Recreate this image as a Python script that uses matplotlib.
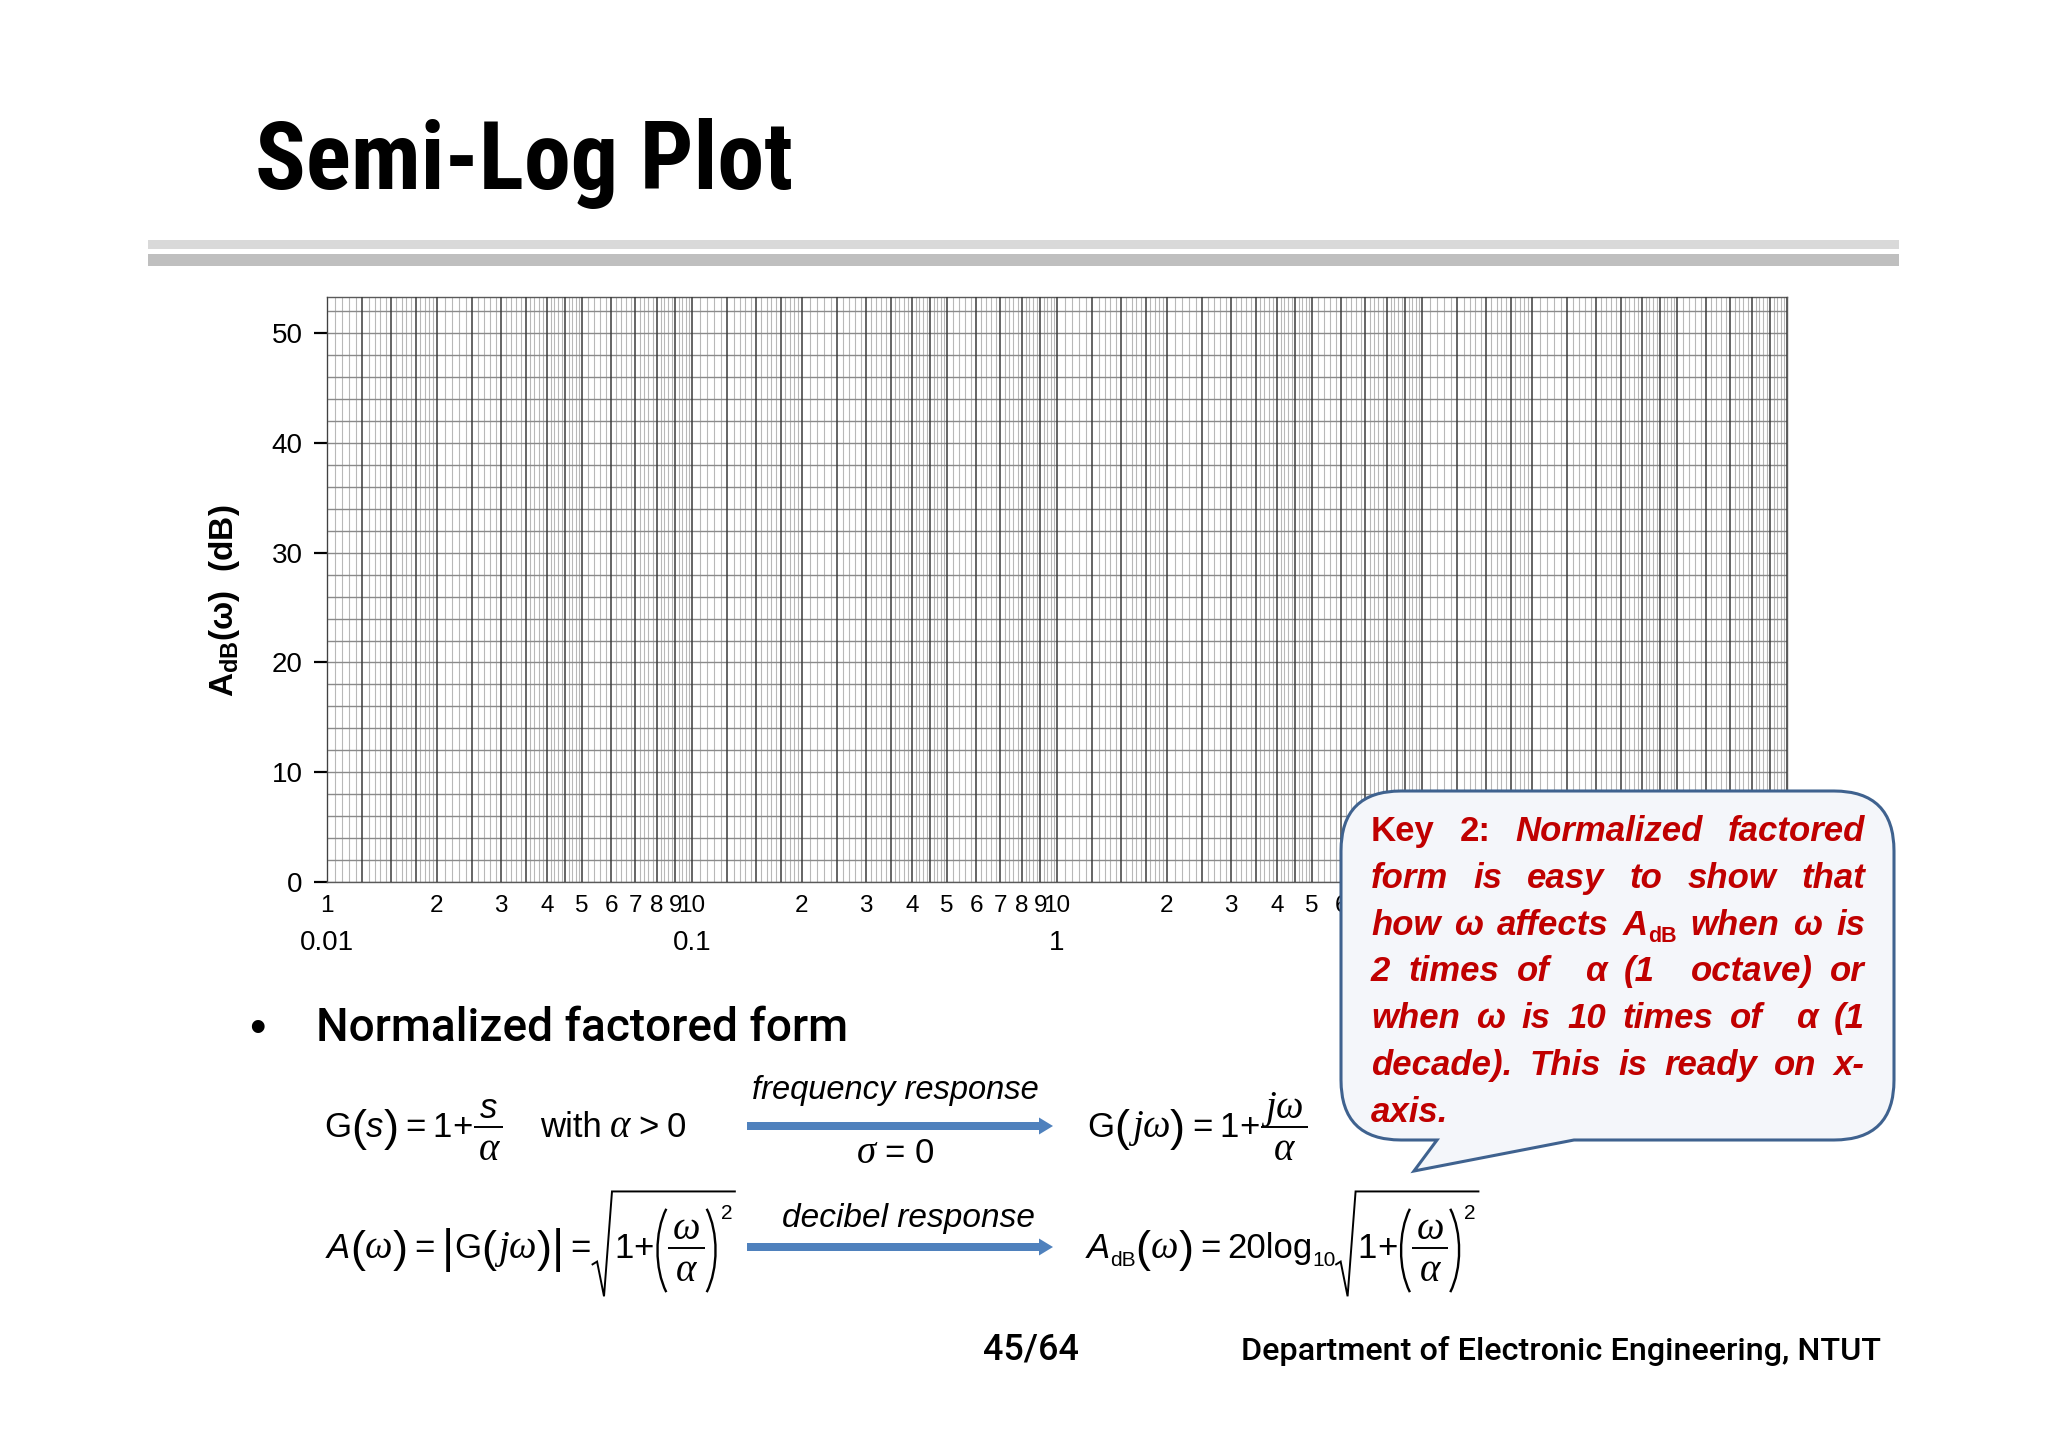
import numpy as np
import matplotlib
matplotlib.use('Agg')
import matplotlib.pyplot as plt
from matplotlib.path import Path
from matplotlib.patches import PathPatch, FancyArrow, Rectangle
from matplotlib.ticker import NullFormatter
from matplotlib.transforms import blended_transform_factory

plt.rcParams['font.family'] = ['Liberation Sans', 'DejaVu Sans']
plt.rcParams['mathtext.fontset'] = 'custom'
plt.rcParams['mathtext.rm'] = 'Liberation Sans'
plt.rcParams['mathtext.it'] = 'Liberation Sans:italic'
plt.rcParams['mathtext.bf'] = 'Liberation Sans:bold'

# ---------------- data ----------------
decades = [0.01, 0.1, 1, 10]
decade_labels = ['0.01', '0.1', '1', '10']
x_min, x_max = 0.01, 100
y_min, y_max = 0, 53.3
y_ticks = [0, 10, 20, 30, 40, 50]
y_grid_step = 2
dark_mult = [1, 1.25, 1.5, 1.75, 2, 2.5, 3, 3.5, 4, 4.5, 5, 6, 7, 8, 9]
light_ranges = [(1, 2, 0.05), (2, 5, 0.1), (5, 10, 0.2)]
digit_mult = [1, 2, 3, 4, 5, 6, 7, 8, 9]
# labels further right than this lie under the callout in the reference
label_visible_max = 6.5

title_text = 'Semi-Log Plot'
y_label = r'$\mathbf{A}_{\mathbf{dB}}$(ω)  (dB)'
bullet_text = 'Normalized factored form'
callout_lines = [
    "Key 2: Normalized factored",
    "form is easy to show that",
    "how ω affects A_dB when ω is",
    "2 times of  α (1  octave) or",
    "when ω is 10 times of  α (1",
    "decade). This is ready on x-",
    "axis.",
]
upright_words = {(0, 'Key'), (0, '2:')}
footer_page = '45/64'
footer_dept = 'Department of Electronic Engineering, NTUT'

W, H = 2048, 1447
fig = plt.figure(figsize=(W / 100, H / 100), dpi=100)
fig.patch.set_facecolor('white')

# ---------------- semi-log grid ----------------
ax = fig.add_axes([327 / W, 1 - 882 / H, (1787 - 327) / W, (882 - 297) / H])
ax.set_xscale('log')
ax.set_xlim(x_min, x_max)
ax.set_ylim(y_min, y_max)

light_mult = []
for a, b, s in light_ranges:
    n = int(round((b - a) / s))
    for k in range(1, n):
        m = round(a + k * s, 4)
        if m not in dark_mult:
            light_mult.append(m)
light_x = [d * m for d in decades for m in light_mult]
dark_x = [d * m for d in decades for m in dark_mult] + [x_max]
y_grid = np.arange(y_min, y_max, y_grid_step)

ax.vlines(light_x, y_min, y_max, colors='#b8b8b8', lw=0.8, zorder=1)
ax.hlines(y_grid, x_min, x_max, colors='#8a8a8a', lw=1.0, zorder=2)
ax.vlines(dark_x, y_min, y_max, colors='#3a3a3a', lw=1.1, zorder=3)

for sp in ax.spines.values():
    sp.set_color('#5a5a5a')
    sp.set_linewidth(1.0)

ax.set_yticks(y_ticks)
ax.set_yticklabels([str(v) for v in y_ticks])
ax.tick_params(axis='y', direction='out', length=9.5, width=1.6, labelsize=20,
               pad=8, colors='black')

xt, xl = [], []
for i, d in enumerate(decades):
    for m in digit_mult:
        if d * m > label_visible_max:
            continue
        xt.append(d * m)
        if m == 1:
            xl.append('1' if i == 0 else '10')
        else:
            xl.append(str(m))
ax.set_xticks(xt)
ax.set_xticklabels(xl)
ax.tick_params(axis='x', which='major', length=0, labelsize=17.5, pad=9)
ax.set_xticks(decades + [x_max], minor=True)
ax.xaxis.set_minor_formatter(NullFormatter())
ax.tick_params(axis='x', which='minor', direction='inout', length=14, width=1.5,
               colors='black')

bt = blended_transform_factory(ax.transData, ax.transAxes)
for d, lab in zip(decades, decade_labels):
    if d > label_visible_max:
        continue
    ax.text(d, -0.105, lab, transform=bt, ha='center', va='center', fontsize=20)

fig.text(225 / W, 1 - 601 / H, y_label, rotation=90, fontweight='bold',
         fontsize=24, ha='center', va='center')

# ---------------- overlay (pixel coordinates) ----------------
ov = fig.add_axes([0, 0, 1, 1], zorder=5)
ov.set_xlim(0, W)
ov.set_ylim(H, 0)
ov.axis('off')
ov.patch.set_alpha(0)
renderer = fig.canvas.get_renderer()

SANS = 'Liberation Sans'
SERIF = 'Liberation Serif'


def fit_text(x, y, s, target_w, base=20, **kw):
    t = ov.text(x, y, s, fontsize=base, **kw)
    w = t.get_window_extent(renderer).width
    t.set_fontsize(base * target_w / w)
    return t


def put(x, y, s, fs, family=SANS, style='normal', weight='normal', color='black', **kw):
    t = ov.text(x, y, s, fontsize=fs, family=family, style=style, fontweight=weight,
                color=color, ha='left', va='baseline', **kw)
    return t, t.get_window_extent(renderer).width


narrow = ['Roboto Condensed', 'Liberation Sans Narrow', 'Roboto', 'Liberation Sans']

# title
fit_text(255, 189, title_text, 538, base=50, family=narrow, fontweight='black',
         va='baseline', ha='left')

# separator bars
ov.add_patch(Rectangle((148, 240), 1899 - 148, 9, facecolor='#d9d9d9', edgecolor='none'))
ov.add_patch(Rectangle((148, 254), 1899 - 148, 12, facecolor='#bfbfbf', edgecolor='none'))

# bullet
ov.text(257, 1030, '•', fontsize=34, ha='center', va='center')
fit_text(316, 1028, bullet_text, 532, base=30, family=['Roboto', 'Liberation Sans'],
         fontweight='medium', ha='left', va='center')


# ---------------- equations (composed piece by piece) ----------------
class Eq:
    def __init__(self, x, yc, fs):
        self.x, self.yc, self.fs = x, yc, fs
        self.e = fs * 100 / 72
        self.base = yc + 0.32 * self.e

    def t(self, s, fam=SANS, st='normal', scale=1.0, dy=0.0, after=0.0):
        _, w = put(self.x, self.base + dy * self.e, s, self.fs * scale, fam, st)
        self.x += w + after * self.e

    def g(self, s, after=0.0):
        self.t(s, SERIF, 'italic', 1.12, after=after)

    def sp(self, k):
        self.x += k * self.e

    def paren(self, s, after=0.0):
        self.t(s, SANS, 'normal', 1.3, dy=0.1, after=after)

    def frac(self, num, den):
        def group(items, y):
            ts, xx = [], 0
            for s, fam, st, sc in items:
                t, w = put(self.x + xx, y, s, self.fs * sc, fam, st)
                ts.append((t, xx))
                xx += w
            return ts, xx
        nts, wn = group(num, self.yc - 0.22 * self.e)
        dts, wd = group(den, self.yc + 0.98 * self.e)
        w = max(wn, wd) + 0.25 * self.e
        for ts, ww in ((nts, wn), (dts, wd)):
            off = (w - ww) / 2
            for t, xo in ts:
                t.set_x(self.x + off + xo)
        ov.plot([self.x, self.x + w], [self.yc + 0.02 * self.e] * 2, color='black',
                lw=1.4, solid_capstyle='butt')
        self.x += w

    def bigparen(self, side):
        e, yc, x = self.e, self.yc, self.x
        top, bot, w = yc - 1.1 * e, yc + 1.3 * e, 0.36 * e
        h = bot - top
        if side == '(':
            xs = [x + w, x + 0.02 * e, x + 0.02 * e, x + w]
            self.x += w + 0.06 * e
        else:
            xs = [x + 0.06 * e, x + w + 0.04 * e, x + w + 0.04 * e, x + 0.06 * e]
            self.x += w + 0.1 * e
        ys = [top, top + 0.28 * h, bot - 0.28 * h, bot]
        ov.add_patch(PathPatch(Path(list(zip(xs, ys)),
                                    [Path.MOVETO, Path.CURVE4, Path.CURVE4, Path.CURVE4]),
                               facecolor='none', edgecolor='black', lw=1.7))

    def sup(self, s):
        _, w = put(self.x, self.yc - 0.8 * self.e, s, self.fs * 0.6)
        self.x += w

    def sqrt_open(self):
        self._sq = self.x
        self.x += 0.62 * self.e

    def sqrt_close(self):
        x0, e, yc = self._sq, self.e, self.yc
        x1 = self.x + 0.08 * e
        ov.plot([x0, x0 + 0.13 * e, x0 + 0.33 * e, x0 + 0.56 * e, x1],
                [yc + 0.5 * e, yc + 0.42 * e, yc + 1.42 * e, yc - 1.6 * e, yc - 1.6 * e],
                color='black', lw=1.4, solid_joinstyle='miter')
        self.x = x1


EFS = 25
S_IT = ('s', SANS, 'italic', 1.0)
ALPHA = ('α', SERIF, 'italic', 1.12)
OMEGA = ('ω', SERIF, 'italic', 1.12)
J_IT = ('j', SERIF, 'italic', 1.12)

# row 1 left: G(s) = 1 + s/alpha   with alpha > 0
e = Eq(324, 1126, EFS)
e.t('G'); e.paren('('); e.t('s', SANS, 'italic'); e.paren(')', after=0.2)
e.t('=', after=0.2); e.t('1'); e.t('+', after=0.05)
e.frac([S_IT], [ALPHA]); e.sp(1.05)
e.t('with', after=0.25); e.g('α', after=0.22); e.t('>', after=0.22); e.t('0')

# row 1 right: G(j omega) = 1 + j omega / alpha
e = Eq(1087, 1126, EFS)
e.t('G'); e.paren('('); e.sp(0.08); e.g('j'); e.g('ω'); e.paren(')', after=0.2)
e.t('=', after=0.2); e.t('1'); e.t('+', after=0.05)
e.frac([J_IT, OMEGA], [ALPHA])

# row 2 left: A(omega) = |G(j omega)| = sqrt(1 + (omega/alpha)^2)
e = Eq(327, 1247, EFS)
e.t('A', SANS, 'italic'); e.paren('('); e.g('ω'); e.paren(')', after=0.2)
e.t('=', after=0.2); e.t('|', scale=1.35, dy=0.12); e.t('G'); e.paren('(')
e.sp(0.05); e.g('j'); e.g('ω'); e.paren(')'); e.t('|', scale=1.35, dy=0.12, after=0.2)
e.t('=', after=0.05)
e.sqrt_open(); e.t('1'); e.t('+')
e.bigparen('('); e.frac([OMEGA], [ALPHA]); e.bigparen(')'); e.sup('2')
e.sqrt_close()

# row 2 right: A_dB(omega) = 20 log10 sqrt(1 + (omega/alpha)^2)
e = Eq(1087, 1247, EFS)
e.t('A', SANS, 'italic'); e.t('dB', SANS, 'normal', 0.6, dy=0.22)
e.paren('('); e.g('ω'); e.paren(')', after=0.2)
e.t('=', after=0.2); e.t('20log'); e.t('10', SANS, 'normal', 0.6, dy=0.22)
e.sqrt_open(); e.t('1'); e.t('+')
e.bigparen('('); e.frac([OMEGA], [ALPHA]); e.bigparen(')'); e.sup('2')
e.sqrt_close()

arrow_col = '#4f81bd'
for yy in (1126, 1247):
    ov.add_patch(FancyArrow(747, yy, 1053 - 747 - 14, 0, width=8, head_width=17,
                            head_length=14, length_includes_head=False,
                            color=arrow_col, lw=0))
ov.text(895, 1090, 'frequency response', fontsize=23.5, style='italic',
        ha='center', va='center')
sig_base = 1152 + 0.32 * EFS * 100 / 72
ov.text(876, sig_base, 'σ', fontsize=EFS * 1.12, family=SERIF, style='italic',
        ha='right', va='baseline')
put(885, sig_base, '= 0', EFS)
ov.text(908, 1218, 'decibel response', fontsize=24, style='italic',
        ha='center', va='center')

# ---------------- callout bubble ----------------
L, R, T, B, r = 1341, 1894, 791, 1140, 60
tail_l, tail_r, tip = 1437, 1574, (1414, 1171)
verts = [(L + r, T), (R - r, T), (R, T), (R, T + r), (R, B - r), (R, B), (R - r, B),
         (tail_r, B), tip, (tail_l, B), (L + r, B), (L, B), (L, B - r),
         (L, T + r), (L, T), (L + r, T), (L + r, T)]
codes = [Path.MOVETO, Path.LINETO, Path.CURVE3, Path.CURVE3, Path.LINETO,
         Path.CURVE3, Path.CURVE3, Path.LINETO, Path.LINETO, Path.LINETO,
         Path.LINETO, Path.CURVE3, Path.CURVE3, Path.LINETO, Path.CURVE3,
         Path.CURVE3, Path.CLOSEPOLY]
ov.add_patch(PathPatch(Path(verts, codes), facecolor='#f4f6fa', edgecolor='#3f628f',
                       lw=2.2, zorder=6))

red = '#c00000'
cfs = 25
txt_l, txt_r = 1371, 1865
base0, lstep = 841, 46.8


def word_pieces(li, w):
    if w == 'A_dB':
        return [('A', 'italic', cfs, 0), ('dB', 'normal', cfs * 0.62, cfs * 1.389 * 0.2)]
    st = 'normal' if (li, w) in upright_words else 'italic'
    return [(w, st, cfs, 0)]


def piece_w(s, st, fs):
    t = ov.text(0, 0, s, fontsize=fs, style=st, fontweight='bold')
    w = t.get_window_extent(renderer).width
    t.remove()
    return w


for li, line in enumerate(callout_lines):
    tokens = line.split(' ')
    words, gaps = [], []
    g = 0
    for tk in tokens:
        if tk == '':
            g += 1
            continue
        if words:
            gaps.append(g)
        words.append(tk)
        g = 1
    pieces = [word_pieces(li, w) for w in words]
    widths = [sum(piece_w(s, st, fs) for s, st, fs, _ in p) for p in pieces]
    y = base0 + li * lstep
    if li < len(callout_lines) - 1 and len(words) > 1:
        unit = (txt_r - txt_l - sum(widths)) / sum(gaps)
    else:
        unit = piece_w('a a', 'italic', cfs) - 2 * piece_w('a', 'italic', cfs)
    x = txt_l
    for k, p in enumerate(pieces):
        for s, st, fs, dy in p:
            t = ov.text(x, y + dy, s, fontsize=fs, style=st, fontweight='bold',
                        color=red, ha='left', va='baseline', zorder=7)
            x += t.get_window_extent(renderer).width
        if k < len(gaps):
            x += unit * gaps[k]

# ---------------- footer ----------------
fit_text(983, 1360, footer_page, 96, base=22, family=['Roboto', 'Liberation Sans'],
         fontweight='medium', ha='left', va='baseline')
fit_text(1241, 1360, footer_dept, 640, base=22, family=['Roboto', 'Liberation Sans'],
         fontweight='medium', ha='left', va='baseline')

fig.savefig('out.png', dpi=100, facecolor='white')
